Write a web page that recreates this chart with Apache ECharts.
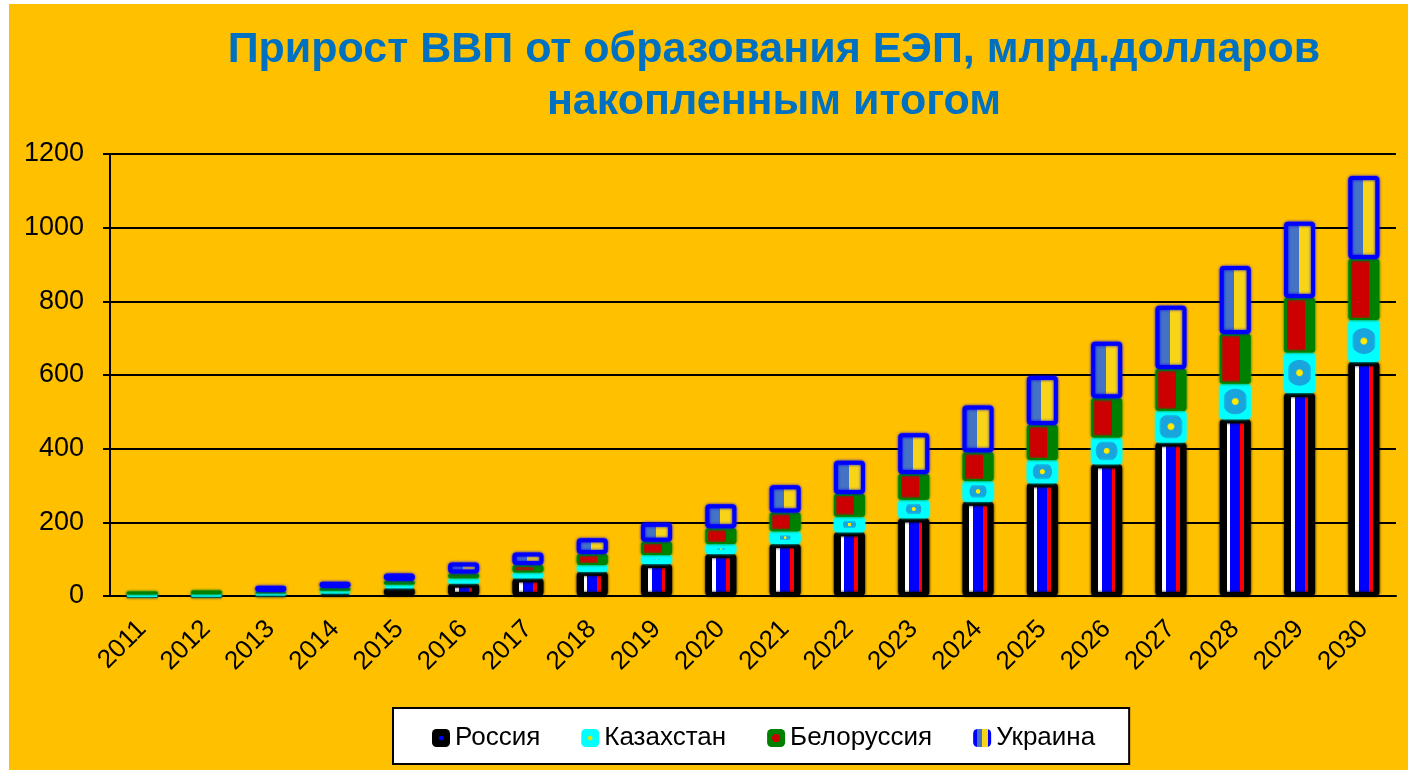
<!DOCTYPE html>
<html>
<head>
<meta charset="utf-8">
<script src="https://cdn.jsdelivr.net/npm/echarts@6.0.0/dist/echarts.min.js"></script>
<style>
    html, body { margin: 0; padding: 0; background: #ffffff; }
    #chart { position: absolute; left: 9px; top: 4px; width: 1399px; height: 766px; }
</style>
</head>
<body>
<div id="chart"></div>
<script>
// годы
const years = ['2011', '2012', '2013', '2014', '2015', '2016', '2017', '2018', '2019', '2020',
    '2021', '2022', '2023', '2024', '2025', '2026', '2027', '2028', '2029', '2030'];

// прирост по странам, млрд. долларов (накопленным итогом)
const russia = [1, 2, 5, 10, 22, 34, 48, 66, 87, 114, 141, 173, 211, 256, 306, 358, 417, 480, 551, 635];
const kazakhstan = [3, 3, 3, 4, 9, 14, 16, 18, 24, 27, 35, 42, 50, 56, 63, 72, 86, 96, 110, 114];
const belarus = [8, 10, 3, 8, 10, 13, 20, 30, 36, 43, 51, 62, 70, 78, 95, 107, 113, 135, 148, 166];
const ukraine = [null, null, 17, 17, 20, 30, 34, 43, 52, 65, 74, 90, 111, 127, 133, 153, 172, 185, 207, 225];

const yTicks = [0, 200, 400, 600, 800, 1000, 1200];

const fontFamily = '"Liberation Sans", Arial, sans-serif';

// полосы "флагов" внутри столбцов
const stripes = (list) => {
    const colorStops = [];
    list.forEach(([from, to, color]) => {
        colorStops.push({ offset: from, color: color });
        colorStops.push({ offset: to, color: color });
    });
    return new echarts.graphic.LinearGradient(0, 0, 1, 0, colorStops);
};

const spot = (list) => new echarts.graphic.RadialGradient(0.5, 0.5, 0.5,
    list.map(([offset, color]) => ({ offset, color })));

const russiaFill = stripes([
    [0, 0.22, '#000000'],
    [0.22, 0.34, '#ffffff'],
    [0.34, 0.66, '#0000ff'],
    [0.66, 0.78, '#ff0000'],
    [0.78, 1, '#000000'],
]);
const kazakhFill = spot([
    [0, '#fff200'],
    [0.18, '#ffe600'],
    [0.26, '#18a4dc'],
    [0.8, '#18a4dc'],
    [0.86, '#00ffff'],
    [1, '#00ffff'],
]);
const belarusFill = stripes([
    [0, 0.08, '#008000'],
    [0.08, 0.66, '#cc0000'],
    [0.66, 1, '#008000'],
]);
const ukraineFill = stripes([
    [0, 0.06, '#0000ff'],
    [0.06, 0.47, '#4472c4'],
    [0.47, 0.92, '#f7d417'],
    [0.92, 1, '#0000ff'],
]);

const makeSeries = (name, data, fill, border, borderWidth) => ({
    name: name,
    type: 'bar',
    stack: 'total',
    barWidth: 31,
    data: data,
    itemStyle: {
        color: fill,
        borderColor: border,
        borderWidth: borderWidth,
        borderRadius: 2,
        shadowBlur: 3,
        shadowColor: border,
    },
    emphasis: { disabled: true },
});

const series = [
    makeSeries('Россия', russia, russiaFill, '#000000', 4),
    makeSeries('Казахстан', kazakhstan, kazakhFill, '#00ffff', 4),
    makeSeries('Белоруссия', belarus, belarusFill, '#008000', 2),
    makeSeries('Украина', ukraine, ukraineFill, '#0000ff', 4),
];

const myChart = echarts.init(document.getElementById('chart'));
myChart.setOption({
    backgroundColor: '#ffc000',
    animation: false,
    textStyle: { fontFamily: fontFamily },
    title: {
        text: 'Прирост ВВП от образования ЕЭП, млрд.долларов\nнакопленным итогом',
        left: 760,
        top: 15,
        textAlign: 'center',
        textStyle: {
            color: '#0070c0',
            fontSize: 43,
            fontWeight: 'bold',
            lineHeight: 52,
            fontFamily: fontFamily,
        },
    },
    legend: {
        left: 384,
        top: 704,
        padding: [17, 34, 13, 39],
        itemGap: 41,
        itemWidth: 18,
        itemHeight: 18,
        backgroundColor: '#ffffff',
        borderColor: '#000000',
        borderWidth: 2,
        borderRadius: 0,
        icon: 'roundRect',
        textStyle: { fontSize: 26, color: '#000000', fontFamily: fontFamily },
        data: [
            { name: 'Россия', itemStyle: { color: spot([[0, '#0000ff'], [0.22, '#0000ff'], [0.3, '#000000'], [1, '#000000']]), borderWidth: 0 } },
            { name: 'Казахстан', itemStyle: { color: spot([[0, '#e8e000'], [0.2, '#e8e000'], [0.3, '#00ffff'], [1, '#00ffff']]), borderWidth: 0 } },
            { name: 'Белоруссия', itemStyle: { color: spot([[0, '#cc0000'], [0.42, '#cc0000'], [0.5, '#008000'], [1, '#008000']]), borderWidth: 0 } },
            { name: 'Украина', itemStyle: { color: stripes([[0, 0.2, '#0000ff'], [0.2, 0.5, '#4472c4'], [0.5, 0.8, '#f7d417'], [0.8, 1, '#0000ff']]), borderWidth: 0 } },
        ],
    },
    grid: {
        left: 101,
        right: 12,
        top: 150,
        bottom: 174,
        containLabel: false,
        outerBoundsMode: 'none',
    },
    xAxis: {
        type: 'category',
        data: years,
        axisLine: { lineStyle: { color: '#000000', width: 2 } },
        axisTick: { length: 7, lineStyle: { color: '#000000', width: 2 } },
        axisLabel: {
            rotate: 45,
            margin: 29,
            interval: 0,
            fontSize: 26,
            color: '#000000',
            fontFamily: fontFamily,
        },
    },
    yAxis: {
        type: 'value',
        min: yTicks[0],
        max: yTicks[yTicks.length - 1],
        interval: yTicks[1] - yTicks[0],
        axisLine: { show: true, lineStyle: { color: '#000000', width: 2 } },
        axisTick: { show: true, length: 7, lineStyle: { color: '#000000', width: 2 } },
        splitLine: { lineStyle: { color: '#000000', width: 2 } },
        axisLabel: {
            margin: 26,
            fontSize: 27,
            color: '#000000',
            fontFamily: fontFamily,
            formatter: (value) => String(value),
        },
    },
    series: series,
});
</script>
</body>
</html>
